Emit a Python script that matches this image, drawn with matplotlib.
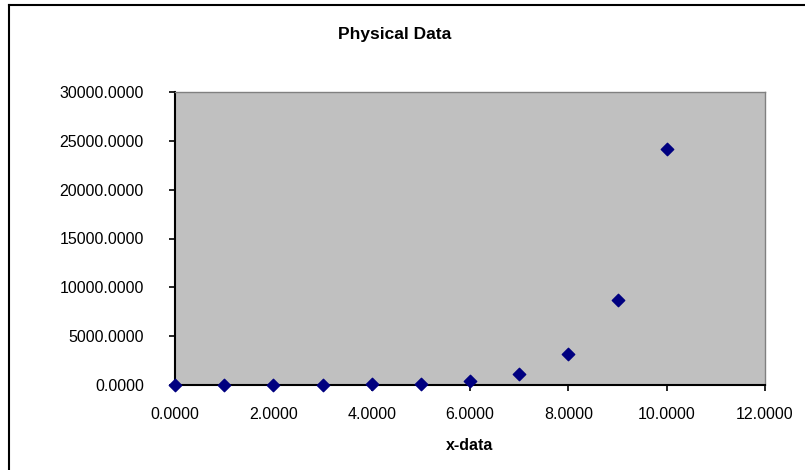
import matplotlib
matplotlib.use('Agg')
import matplotlib.pyplot as plt
from matplotlib.lines import Line2D
from matplotlib.ticker import FormatStrFormatter

plt.rcParams['font.family'] = ['Liberation Sans', 'DejaVu Sans']

# Data
x_data = [0, 1, 2, 3, 4, 5, 6, 7, 8, 9, 10]
y_data = [1, 3, 8, 20, 55, 150, 400, 1100, 3170, 8730, 24160]
x_ticks = [0, 2, 4, 6, 8, 10, 12]
y_ticks = [0, 5000, 10000, 15000, 20000, 25000, 30000]

fig = plt.figure(figsize=(8.05, 4.70), dpi=100)
ax = fig.add_axes([175 / 805, 85 / 470, 590 / 805, 293 / 470])
ax.set_facecolor('#C0C0C0')

ax.scatter(x_data, y_data, marker='D', s=40, color='#000080', zorder=3, clip_on=False)

ax.set_xlim(0, 12)
ax.set_ylim(0, 30000)
ax.set_xticks(x_ticks)
ax.set_yticks(y_ticks)
ax.xaxis.set_major_formatter(FormatStrFormatter('%.4f'))
ax.yaxis.set_major_formatter(FormatStrFormatter('%.4f'))
ax.tick_params(axis='both', direction='out', length=4.5, width=1.2, colors='black', labelsize=11.5)
ax.tick_params(axis='y', pad=18)
ax.tick_params(axis='x', pad=11)

for side in ['left', 'bottom']:
    ax.spines[side].set_color('black')
    ax.spines[side].set_linewidth(1.5)
for side in ['top', 'right']:
    ax.spines[side].set_color('#808080')
    ax.spines[side].set_linewidth(1.0)

ax.set_xlabel('x-data', fontsize=11.5, fontweight='bold', labelpad=12)
fig.text(395 / 805, 1 - 34 / 470, 'Physical Data', fontsize=12.5, fontweight='bold',
         ha='center', va='center')

# Outer chart border (left and top edges visible)
fig.add_artist(Line2D([9 / 805, 9 / 805], [0, 1 - 5 / 470], transform=fig.transFigure,
                      color='black', linewidth=1.5))
fig.add_artist(Line2D([9 / 805, 1], [1 - 5 / 470, 1 - 5 / 470], transform=fig.transFigure,
                      color='black', linewidth=1.5))

fig.savefig('out.png', dpi=100)
